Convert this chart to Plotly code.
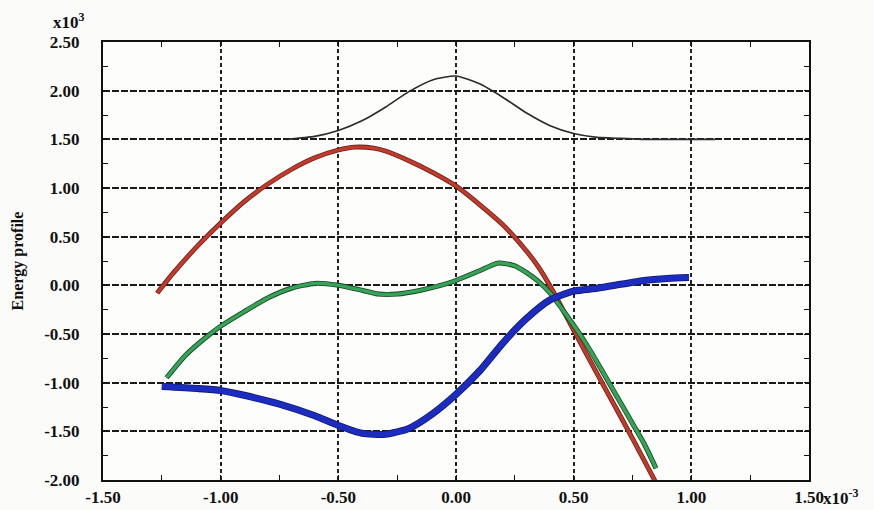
import plotly.graph_objects as go

# Reaction coordinate samples (units of 1e-3) and energy profiles (units of 1e3)
x_gauss = [-0.72, -0.60, -0.50, -0.40, -0.30, -0.20, -0.10, 0.00, 0.10, 0.20,
           0.30, 0.40, 0.50, 0.60, 0.70, 0.80, 0.95, 1.10]
y_gauss = [1.50, 1.53, 1.59, 1.69, 1.83, 1.99, 2.11, 2.15, 2.07, 1.93,
           1.77, 1.64, 1.56, 1.52, 1.51, 1.50, 1.50, 1.50]

x_red = [-1.27, -1.20, -1.10, -1.00, -0.90, -0.80, -0.70, -0.60, -0.50, -0.43,
         -0.35, -0.30, -0.20, -0.10, 0.00, 0.10, 0.20, 0.30, 0.35, 0.41,
         0.50, 0.60, 0.70, 0.80, 0.85]
y_red = [-0.08, 0.13, 0.40, 0.64, 0.86, 1.04, 1.19, 1.31, 1.39, 1.42,
         1.41, 1.38, 1.28, 1.16, 1.02, 0.83, 0.62, 0.35, 0.19, -0.05,
         -0.46, -0.91, -1.35, -1.80, -2.03]

x_green = [-1.23, -1.15, -1.05, -1.00, -0.90, -0.80, -0.70, -0.60, -0.50, -0.40,
           -0.33, -0.25, -0.15, -0.05, 0.00, 0.10, 0.18, 0.25, 0.30, 0.35,
           0.40, 0.45, 0.50, 0.55, 0.60, 0.65, 0.70, 0.75, 0.80, 0.85]
y_green = [-0.95, -0.72, -0.51, -0.42, -0.27, -0.13, -0.03, 0.02, 0.00, -0.05,
           -0.09, -0.09, -0.05, 0.01, 0.05, 0.15, 0.23, 0.20, 0.13, 0.04,
           -0.08, -0.24, -0.41, -0.59, -0.79, -1.00, -1.21, -1.42, -1.63, -1.88]

x_blue = [-1.25, -1.10, -1.00, -0.90, -0.75, -0.60, -0.50, -0.40, -0.30, -0.20,
          -0.10, 0.00, 0.10, 0.20, 0.30, 0.40, 0.50, 0.60, 0.70, 0.80,
          0.90, 0.99]
y_blue = [-1.04, -1.06, -1.08, -1.13, -1.22, -1.34, -1.44, -1.52, -1.53, -1.47,
          -1.32, -1.12, -0.88, -0.59, -0.34, -0.15, -0.06, -0.03, 0.01, 0.05,
          0.07, 0.08]

x_ticks = [-1.5, -1.0, -0.5, 0.0, 0.5, 1.0, 1.5]
x_ticktext = ["-1.50", "-1.00", "-0.50", "0.00", "0.50", "1.00", "1.50"]
y_ticks = [-2.0, -1.5, -1.0, -0.5, 0.0, 0.5, 1.0, 1.5, 2.0, 2.5]
y_ticktext = ["-2.00", "-1.50", "-1.00", "-0.50", "0.00", "0.50", "1.00", "1.50", "2.00", "2.50"]

fig = go.Figure()

# (x, y, main colour, edge colour, width)
curves = [
    (x_gauss, y_gauss, "#2a2a2a", None, 1.6),
    (x_red, y_red, "#c23a2c", "#6e1f18", 3.2),
    (x_green, y_green, "#34a457", "#1b4426", 3.4),
    (x_blue, y_blue, "#1d2cc0", "#101a70", 5.5),
]
for xs, ys, col, edge, w in curves:
    if edge:
        fig.add_trace(go.Scatter(x=xs, y=ys, mode="lines",
                                 line=dict(color=edge, width=w + 1.6, shape="spline", smoothing=0.6),
                                 hoverinfo="skip", showlegend=False))
    fig.add_trace(go.Scatter(x=xs, y=ys, mode="lines",
                             line=dict(color=col, width=w, shape="spline", smoothing=0.6),
                             showlegend=False))

tick_font = dict(family="Liberation Serif", size=17, color="#111", weight="bold")

fig.update_layout(
    width=874, height=510,
    margin=dict(l=103, r=65, t=42, b=30),
    paper_bgcolor="#fbfbf9",
    plot_bgcolor="#fdfdfc",
    showlegend=False,
    xaxis=dict(
        range=[-1.5, 1.5], tickvals=x_ticks, ticktext=x_ticktext, automargin=False,
        showgrid=True, gridcolor="#222", gridwidth=1.5, griddash="4px,3px",
        zeroline=False, showline=True, linecolor="#111", linewidth=2, mirror="ticks",
        ticks="inside", ticklen=4, tickcolor="#111",
        minor=dict(dtick=0.25, ticks="inside", ticklen=5, tickcolor="#111", showgrid=False),
        tickfont=tick_font, ticklabelstandoff=1,
    ),
    yaxis=dict(
        range=[-2.0, 2.5], tickvals=y_ticks, ticktext=y_ticktext, automargin=False,
        showgrid=True, gridcolor="#1a1a1a", gridwidth=2.2, griddash="7px,2px",
        zeroline=False, showline=True, linecolor="#111", linewidth=2, mirror="ticks",
        ticks="inside", ticklen=4, tickcolor="#111",
        minor=dict(dtick=0.25, ticks="inside", ticklen=5, tickcolor="#111", showgrid=False),
        tickfont=tick_font, ticklabelstandoff=18,
        title=dict(text="Energy profile", standoff=17,
                   font=dict(family="Liberation Serif", size=16, color="#111", weight="bold")),
    ),
)

# axis multipliers
fig.add_annotation(xref="paper", yref="paper", x=1.0, y=0, xanchor="left", yanchor="top",
                   xshift=12, yshift=-4, showarrow=False,
                   text="x10<sup>-3</sup>", font=tick_font)
fig.add_annotation(xref="paper", yref="paper", x=0, y=1.0, xanchor="right", yanchor="bottom",
                   xshift=-16, yshift=8, showarrow=False,
                   text="x10<sup>3</sup>", font=tick_font)

fig.write_html("out.html")
